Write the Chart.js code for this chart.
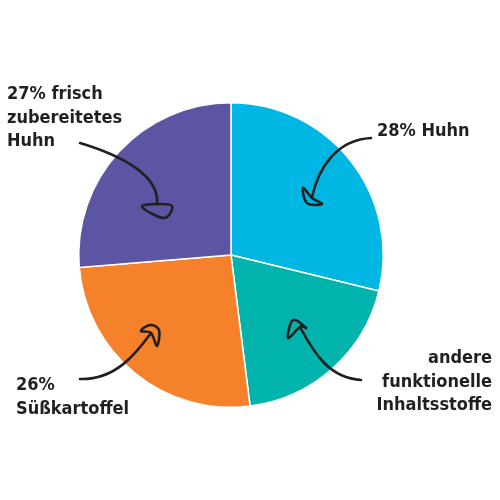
<!DOCTYPE html>
<html>
<head>
<meta charset="utf-8">
<script src="https://cdn.jsdelivr.net/npm/chart.js@4"></script>
<style>
  body { margin: 0; background: #fff; }
  #wrap { width: 500px; height: 500px; }
</style>
</head>
<body>
<div id="wrap"><canvas id="pieChart" width="500" height="500"></canvas></div>
<script>
const labels = ['28% Huhn', 'andere funktionelle Inhaltsstoffe', '26% Süßkartoffel', '27% frisch zubereitetes Huhn'];
// slice sizes as drawn in the picture
const values = [28.8, 19.2, 25.7, 26.3];
const colors = ['#00b7e4', '#00b3ad', '#f5822a', '#5b55a4'];

// label text lines, position and alignment
const notes = [
  { lines: ['28% Huhn'], x: 377, y: 136, align: 'left' },
  { lines: ['andere', 'funktionelle', 'Inhaltsstoffe'], x: 492, y: 363, align: 'right' },
  { lines: ['26%', 'Süßkartoffel'], x: 16, y: 390, align: 'left' },
  { lines: ['27% frisch', 'zubereitetes', 'Huhn'], x: 7, y: 99, align: 'left' }
];

// hand drawn arrows: curve (start, two controls, end) and head loop points
const arrows = [
  { c: [371, 138, 335, 140, 318, 170, 312, 197], head: [[312, 198], [303, 188], [307, 203], [322, 204]] },
  { c: [361, 380, 330, 378, 315, 355, 300, 327], head: [[300, 327], [306, 328], [293, 320], [288, 338]] },
  { c: [80, 379, 115, 380, 135, 355, 151, 333], head: [[151, 333], [141, 331], [150, 325], [159, 330], [157, 346]] },
  { c: [80, 143, 120, 155, 160, 175, 157, 204], head: [[157, 204], [142, 207], [164, 218], [172, 206]] }
];

// closed catmull-rom curve through the points
function loop(ctx, pts) {
  const n = pts.length;
  ctx.moveTo(pts[0][0], pts[0][1]);
  for (let i = 0; i < n; i++) {
    const p0 = pts[(i - 1 + n) % n], p1 = pts[i], p2 = pts[(i + 1) % n], p3 = pts[(i + 2) % n];
    const t = 0.35;
    ctx.bezierCurveTo(
      p1[0] + (p2[0] - p0[0]) * t / 2, p1[1] + (p2[1] - p0[1]) * t / 2,
      p2[0] - (p3[0] - p1[0]) * t / 2, p2[1] - (p3[1] - p1[1]) * t / 2,
      p2[0], p2[1]);
  }
  ctx.closePath();
}

const notesPlugin = {
  id: 'notes',
  afterDraw(chart) {
    const ctx = chart.ctx;
    ctx.save();
    ctx.strokeStyle = '#231f20';
    ctx.lineWidth = 2.6;
    ctx.lineCap = 'round';
    ctx.lineJoin = 'round';
    arrows.forEach(a => {
      const c = a.c;
      ctx.beginPath();
      ctx.moveTo(c[0], c[1]);
      ctx.bezierCurveTo(c[2], c[3], c[4], c[5], c[6], c[7]);
      ctx.stroke();
      ctx.beginPath();
      loop(ctx, a.head);
      ctx.stroke();
    });
    ctx.fillStyle = '#231f20';
    ctx.font = 'bold 18px "DejaVu Sans Condensed", "DejaVu Sans"';
    ctx.textBaseline = 'alphabetic';
    notes.forEach(n => {
      ctx.textAlign = n.align;
      n.lines.forEach((t, i) => ctx.fillText(t, n.x, n.y + i * 23.5));
    });
    ctx.restore();
  }
};

new Chart(document.getElementById('pieChart').getContext('2d'), {
  type: 'pie',
  data: {
    labels: labels,
    datasets: [{
      data: values,
      backgroundColor: colors,
      borderColor: '#ffffff',
      borderWidth: 1.5
    }]
  },
  options: {
    responsive: false,
    animation: false,
    layout: { padding: { left: 78, right: 116, top: 102, bottom: 92 } },
    plugins: { legend: { display: false }, tooltip: { enabled: false } }
  },
  plugins: [notesPlugin]
});
</script>
</body>
</html>
